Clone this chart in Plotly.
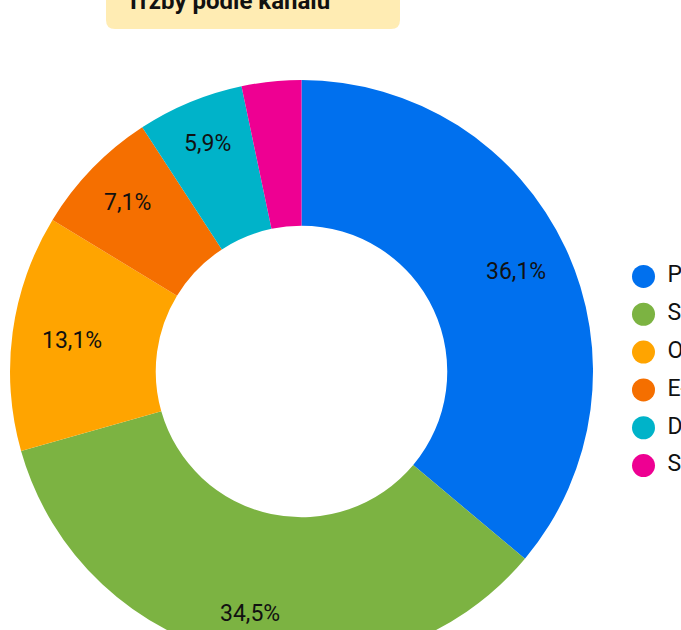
import math
import plotly.graph_objects as go

# ---- data ----
channels = ["Prodejny", "Síť partnerů", "Obchodní zástupci", "E-shop", "Distributoři", "Sociální sítě"]
shares = [36.1, 34.5, 13.1, 7.1, 5.9, 3.3]
colors = ["#0070EE", "#7CB342", "#FFA400", "#F56F00", "#00B3C9", "#EE0092"]
title_text = "Tržby podle kanálu"

# ---- layout / style constants (pixels) ----
W, H = 800, 680
FONT = "Roboto"
MIN_LABEL_SHARE = 5.0    # slices below this share get no label
LABEL_R_BASE = 0.786     # label radius (fraction of outer radius)
LABEL_R_VBOOST = 0.065   # extra radius for labels near top/bottom


def X(p):
    return p / W


def Y(p):
    return 1 - p / H


PIE_DOMAIN = dict(x=[X(10), X(593)], y=[Y(663), Y(80)])

fig = go.Figure()

fig.add_trace(go.Pie(
    labels=channels,
    values=shares,
    hole=0.5,
    sort=False,
    direction="clockwise",
    rotation=0,
    marker=dict(colors=colors, line=dict(width=0)),
    textinfo="none",
    domain=PIE_DOMAIN,
    showlegend=False,
    hoverinfo="label+percent",
))

# slice labels: annotations on a hidden square axis that overlays the pie
total = sum(shares)
annotations = []
acc = 0.0
for v in shares:
    ang = math.radians((acc + v / 2) / total * 360)
    acc += v
    if v < MIN_LABEL_SHARE:
        continue
    rr = LABEL_R_BASE + LABEL_R_VBOOST * abs(math.cos(ang))
    annotations.append(dict(
        text=f"{v / total * 100:.1f}%".replace(".", ","),
        xref="x2", yref="y2", x=rr * math.sin(ang), y=rr * math.cos(ang),
        xanchor="center", yanchor="middle", showarrow=False,
        font=dict(family=FONT, size=23, color="#111111"),
    ))

# custom legend drawn as scatter points on a hidden axis
fig.add_trace(go.Scatter(
    x=[643.5] * len(channels), y=channels, mode="markers",
    marker=dict(size=23, color=colors, line=dict(width=0)),
    showlegend=False, hoverinfo="skip",
))
fig.add_trace(go.Scatter(
    x=[667.5] * len(channels), y=channels, mode="text", text=channels,
    textposition="middle right",
    textfont=dict(family=FONT, size=23, color="#111111"),
    showlegend=False, hoverinfo="skip",
))
# invisible anchor trace for the label axis
fig.add_trace(go.Scatter(x=[0], y=[0], xaxis="x2", yaxis="y2", mode="markers",
                         marker=dict(opacity=0), showlegend=False, hoverinfo="skip"))

r = 9
x0, x1, y0, y1 = 106, 400, -20, 29
path = (f"M {X(x0+r)},{Y(y0)} L {X(x1-r)},{Y(y0)} Q {X(x1)},{Y(y0)} {X(x1)},{Y(y0+r)} "
        f"L {X(x1)},{Y(y1-r)} Q {X(x1)},{Y(y1)} {X(x1-r)},{Y(y1)} "
        f"L {X(x0+r)},{Y(y1)} Q {X(x0)},{Y(y1)} {X(x0)},{Y(y1-r)} "
        f"L {X(x0)},{Y(y0+r)} Q {X(x0)},{Y(y0)} {X(x0+r)},{Y(y0)} Z")

annotations.append(dict(text="<b>" + title_text + "</b>", xref="paper", yref="paper",
                        x=X(124), y=Y(17), xanchor="left", yanchor="bottom",
                        showarrow=False, font=dict(family=FONT, size=24, color="#111111")))

fig.update_layout(
    width=W, height=H,
    margin=dict(l=0, r=0, t=0, b=0, pad=0),
    paper_bgcolor="white", plot_bgcolor="rgba(0,0,0,0)",
    font=dict(family=FONT, size=23, color="#111111"),
    separators=", ",
    xaxis=dict(visible=False, range=[0, W], domain=[0, 1], fixedrange=True),
    yaxis=dict(visible=False, type="category", categoryorder="array", categoryarray=channels,
               range=[5.5, -0.5], domain=[Y(484.5), Y(257.5)], fixedrange=True),
    xaxis2=dict(visible=False, range=[-1, 1], domain=PIE_DOMAIN["x"], anchor="y2", fixedrange=True),
    yaxis2=dict(visible=False, range=[-1, 1], domain=PIE_DOMAIN["y"], anchor="x2", fixedrange=True),
    shapes=[dict(type="path", xref="paper", yref="paper", path=path,
                 fillcolor="#FFECB3", line=dict(width=0), layer="below")],
    annotations=annotations,
)

fig.write_html("out.html", config={"displayModeBar": False},
               post_script="document.body.style.margin='0';")
